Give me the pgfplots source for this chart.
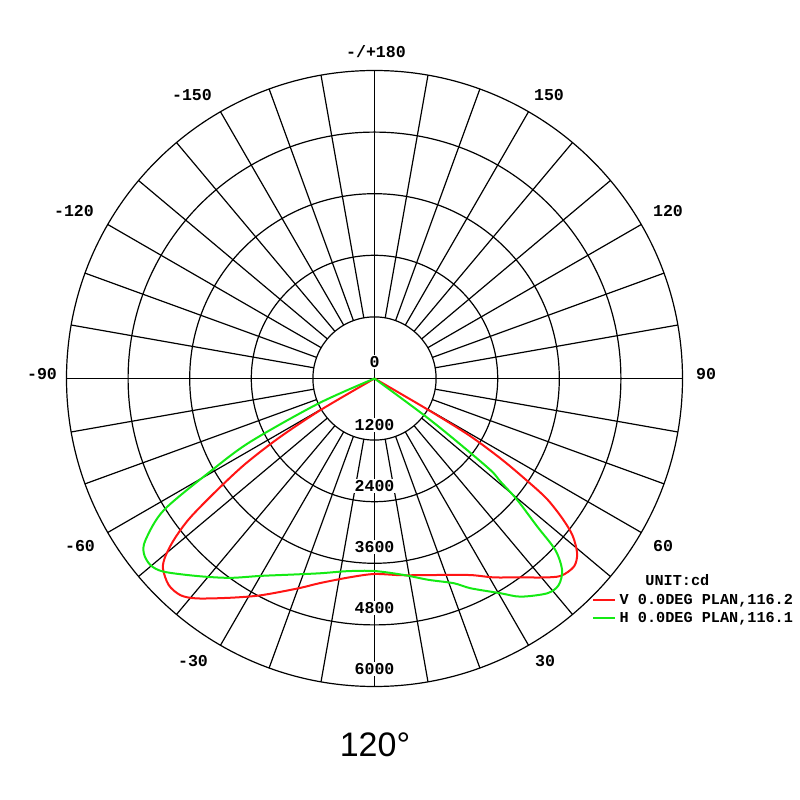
\documentclass[border=0pt]{standalone}
\usepackage{fontspec}
\usepackage{pgfplots}
\usepackage{pgfplotstable}
\pgfplotsset{compat=1.18}
\setmainfont{Liberation Mono}
\newfontfamily\arial{Liberation Sans}
\definecolor{vred}{HTML}{FF1414}
\definecolor{hgreen}{HTML}{14EA14}

% V plane, angle (deg from nadir) and intensity (cd)
\pgfplotstableread{
a r
-60.6 0
-59.7 1218
-58.2 2178
-56.5 3037
-54.5 3827
-52.9 4520
-51.3 4989
-49.7 5335
-48.1 5538
-44.9 5680
-41.8 5665
-38.9 5505
-33.3 5110
-27.7 4770
-20.0 4350
-14.8 4120
-7.0 3900
0.0 3808
8.0 3870
17.7 4018
26.0 4260
31.0 4520
36.3 4805
40.0 5060
43.3 5285
46.7 5340
49.2 5214
51.6 4923
53.3 4566
55.1 4086
56.3 3512
57.6 2908
59.0 2158
59.7 1218
60.6 0
}\redV

% H plane
\pgfplotstableread{
a r
-67.0 0
-66.0 1190
-63.0 2712
-60.6 3630
-58.0 4840
-54.8 5460
-52.8 5640
-50.2 5680
-47.5 5570
-41.9 5170
-36.0 4800
-30.0 4440
-23.0 4150
-15.5 3937
-8.0 3790
0.0 3750
8.5 3870
15.0 4060
21.2 4278
24.6 4494
30.4 4850
33.8 5114
38.8 5369
41.7 5392
44.4 5223
46.5 4856
47.7 4288
49.6 3651
50.7 3173
51.7 2877
52.6 2000
53.5 1194
55.0 0
}\greenH

\begin{document}
\begin{tikzpicture}
% grid, in pixel units of an 800x800 canvas
\begin{scope}[x=0.5bp, y=-0.5bp, yshift=400bp, line width=0.6bp]
  \path (0,0) rectangle (800,800);
  \foreach \k in {1,...,5}
    \draw (374.5,378.5) circle[radius=61.6*\k];
  \foreach \t in {0,10,...,350}
    \draw (374.5,378.5) ++(\t:61.6) -- ++(\t:246.4);
  \draw (66.5,378.5) -- (682.5,378.5);
  \draw (374.5,70.5) -- (374.5,686.5);
\end{scope}

\begin{axis}[
    scale only axis,
    width=400bp, height=400bp,
    hide axis, clip=false,
    xmin=-7295.45, xmax=8288.96,
    ymin=-8211.04, ymax=7373.38,
]
  \addplot[vred, line width=1bp, smooth, tension=0.5, data cs=polar]
    table[x expr=\thisrow{a}-90, y=r] {\redV};
  \addplot[hgreen, line width=1bp, smooth, tension=0.5, data cs=polar]
    table[x expr=\thisrow{a}-90, y=r] {\greenH};
\end{axis}

\begin{scope}[x=0.5bp, y=-0.5bp, yshift=400bp]
  \begin{scope}[font=\fontsize{8.3bp}{10bp}\selectfont\bfseries]
    \node at (376,52) {-/+180};
    \node at (549,95) {150};
    \node at (192,95) {-150};
    \node at (668,211) {120};
    \node at (74,211) {-120};
    \node at (706,374) {90};
    \node at (42,374) {-90};
    \node at (663,546) {60};
    \node at (80,546) {-60};
    \node at (545,661) {30};
    \node at (193,661) {-30};
    \foreach \v/\y in {0/362,1200/425,2400/486,3600/547,4800/608,6000/669}
      \node[fill=white, inner sep=0.6bp] at (374.5,\y) {\v};
  \end{scope}
  \begin{scope}[font=\fontsize{7.6bp}{9bp}\selectfont\bfseries]
    \node[anchor=base west, inner sep=0] at (645,585.5) {UNIT:cd};
    \draw[vred, line width=1bp] (593.3,600) -- (615,600);
    \node[anchor=base west, inner sep=0] at (619.3,604.3) {V 0.0DEG PLAN,116.2};
    \draw[hgreen, line width=1bp] (593.3,618.5) -- (615,618.5);
    \node[anchor=base west, inner sep=0] at (619.3,622.6) {H 0.0DEG PLAN,116.1};
  \end{scope}
  \node[font=\arial\fontsize{17bp}{20bp}\selectfont] at (375,745) {120°};
\end{scope}
\end{tikzpicture}
\end{document}
